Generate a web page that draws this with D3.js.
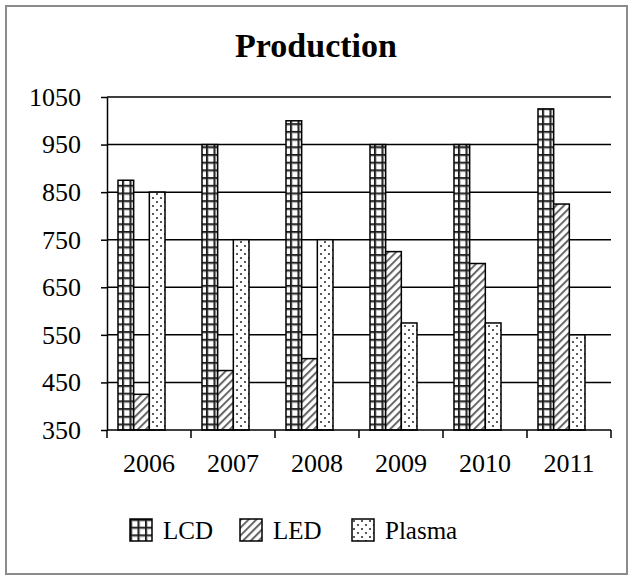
<!DOCTYPE html>
<html>
<head>
<meta charset="utf-8">
<script src="https://cdn.jsdelivr.net/npm/d3@7"></script>
<style>
  body { margin: 0; background: #fff; }
  svg { display: block; }
</style>
</head>
<body>
<svg id="chart" width="633" height="580"></svg>
<script>
const years = ['2006', '2007', '2008', '2009', '2010', '2011'];
const seriesNames = ['LCD', 'LED', 'Plasma'];
const lcd = [875, 950, 1000, 950, 950, 1025];
const led = [425, 475, 500, 725, 700, 825];
const plasma = [850, 750, 750, 575, 575, 550];
const yTicks = [350, 450, 550, 650, 750, 850, 950, 1050];

const seriesValues = { LCD: lcd, LED: led, Plasma: plasma };
const fontFam = '"Liberation Serif", "DejaVu Serif", serif';

const svg = d3.select('#chart');

// outer frame
svg.append('rect')
  .attr('x', 6).attr('y', 6)
  .attr('width', 621).attr('height', 568)
  .attr('fill', '#fff')
  .attr('stroke', '#8c8c8c')
  .attr('stroke-width', 2);

// fill patterns
const defs = svg.append('defs');

const pGrid = defs.append('pattern')
  .attr('id', 'pat_LCD')
  .attr('patternUnits', 'userSpaceOnUse')
  .attr('width', 7.5).attr('height', 7.7);
pGrid.append('rect').attr('width', 8).attr('height', 8).attr('fill', '#fff');
pGrid.append('rect').attr('x', 0).attr('y', 0).attr('width', 8).attr('height', 1.8).attr('fill', '#1a1a1a');
pGrid.append('rect').attr('x', 0).attr('y', 0).attr('width', 1.8).attr('height', 8).attr('fill', '#1a1a1a');
pGrid.append('rect').attr('x', 1.8).attr('y', 1.8).attr('width', 6).attr('height', 0.8).attr('fill', '#aaa');
pGrid.append('rect').attr('x', 1.8).attr('y', 1.8).attr('width', 0.8).attr('height', 6).attr('fill', '#aaa');

const pHatch = defs.append('pattern')
  .attr('id', 'pat_LED')
  .attr('patternUnits', 'userSpaceOnUse')
  .attr('width', 5.5).attr('height', 5.5)
  .attr('patternTransform', 'rotate(45)');
pHatch.append('rect').attr('width', 6).attr('height', 6).attr('fill', '#fff');
pHatch.append('line')
  .attr('x1', 1).attr('y1', 0).attr('x2', 1).attr('y2', 6)
  .attr('stroke', '#666').attr('stroke-width', 2);

const pDots = defs.append('pattern')
  .attr('id', 'pat_Plasma')
  .attr('patternUnits', 'userSpaceOnUse')
  .attr('width', 8).attr('height', 8);
pDots.append('rect').attr('width', 8).attr('height', 8).attr('fill', '#fff');
pDots.append('circle').attr('cx', 2).attr('cy', 2).attr('r', 1.1).attr('fill', '#333');
pDots.append('circle').attr('cx', 6).attr('cy', 6).attr('r', 1.1).attr('fill', '#333');

// title
svg.append('text')
  .attr('x', 316).attr('y', 57)
  .attr('text-anchor', 'middle')
  .attr('font-family', fontFam)
  .attr('font-weight', 'bold')
  .attr('font-size', 34)
  .text('Production');

const margin = { left: 107, right: 611, top: 97, bottom: 430 };

const x0 = d3.scaleBand()
  .domain(years)
  .range([margin.left, margin.right])
  .padding(0);

const x1 = d3.scaleBand()
  .domain(seriesNames)
  .range([11, 58])
  .padding(0);

const y = d3.scaleLinear()
  .domain([350, 1050])
  .range([margin.bottom, margin.top]);

// gridlines
svg.append('g')
  .selectAll('line')
  .data(yTicks.slice(1))
  .join('line')
  .attr('x1', margin.left).attr('x2', margin.right)
  .attr('y1', d => y(d)).attr('y2', d => y(d))
  .attr('stroke', '#000')
  .attr('stroke-width', 1.5);

// bars
const group = svg.append('g')
  .selectAll('g')
  .data(years)
  .join('g')
  .attr('transform', d => `translate(${x0(d)},0)`);

group.selectAll('rect')
  .data((d, i) => seriesNames.map(s => ({ s, v: seriesValues[s][i] })))
  .join('rect')
  .attr('x', d => x1(d.s))
  .attr('y', d => y(d.v))
  .attr('width', x1.bandwidth())
  .attr('height', d => y(350) - y(d.v))
  .attr('fill', d => `url(#pat_${d.s})`)
  .attr('stroke', '#000')
  .attr('stroke-width', 1.5);

// y axis
const yAxis = svg.append('g')
  .attr('transform', `translate(${margin.left},0)`)
  .call(d3.axisLeft(y).tickValues(yTicks).tickFormat(d3.format('d'))
    .tickSize(6).tickPadding(20).tickSizeOuter(0));
yAxis.select('.domain').attr('stroke-width', 1.5);
yAxis.selectAll('.tick line').attr('stroke-width', 1.5);
yAxis.selectAll('text')
  .attr('font-family', fontFam)
  .attr('font-size', 26)
  .attr('fill', '#000');

// x axis
const xTickPos = years.map(d => x0(d)).concat([margin.right]);
svg.append('line')
  .attr('x1', margin.left).attr('x2', margin.right)
  .attr('y1', margin.bottom).attr('y2', margin.bottom)
  .attr('stroke', '#000').attr('stroke-width', 1.5);
svg.append('g')
  .selectAll('line')
  .data(xTickPos)
  .join('line')
  .attr('x1', d => d).attr('x2', d => d)
  .attr('y1', margin.bottom).attr('y2', margin.bottom + 8)
  .attr('stroke', '#000').attr('stroke-width', 1.5);
svg.append('g')
  .selectAll('text')
  .data(years)
  .join('text')
  .attr('x', d => x0(d) + x0.bandwidth() / 2)
  .attr('y', 472)
  .attr('text-anchor', 'middle')
  .attr('font-family', fontFam)
  .attr('font-size', 26)
  .text(d => d);

// legend
const legendItems = [
  { s: 'LCD', x: 130 },
  { s: 'LED', x: 240 },
  { s: 'Plasma', x: 352 }
];
const leg = svg.append('g')
  .selectAll('g')
  .data(legendItems)
  .join('g')
  .attr('transform', d => `translate(${d.x},519)`);
leg.append('rect')
  .attr('width', 22).attr('height', 22)
  .attr('fill', d => `url(#pat_${d.s})`)
  .attr('stroke', '#000')
  .attr('stroke-width', 1.5);
leg.append('text')
  .attr('x', 33).attr('y', 20)
  .attr('font-family', fontFam)
  .attr('font-size', 25)
  .text(d => d.s);
</script>
</body>
</html>
